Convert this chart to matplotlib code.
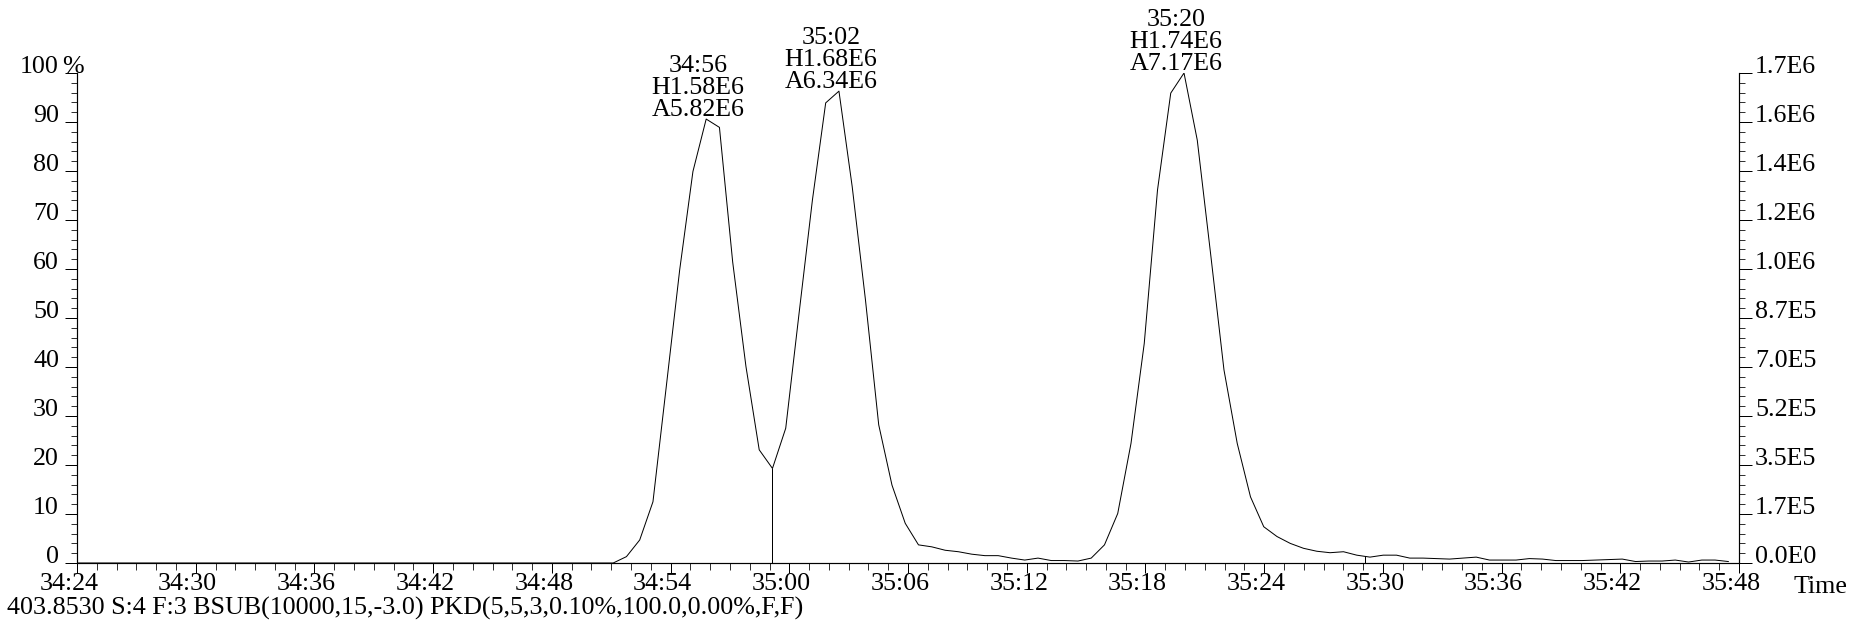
import matplotlib
matplotlib.use("Agg")
import matplotlib.pyplot as plt
from matplotlib.ticker import MultipleLocator
from matplotlib.transforms import ScaledTranslation
import numpy as np

# ---- data ----
T0 = 34 * 60 + 24  # 34:24, start of the time axis (s)

# scan times in seconds after 34:24
scan_t = [0.00, 27.10, 27.77, 28.44, 29.11, 29.78, 30.46, 31.13, 31.80, 32.47, 33.14,
          33.81, 34.48, 35.15, 35.82, 36.49, 37.17, 37.84, 38.51, 39.18, 39.85,
          40.52, 41.19, 41.86, 42.53, 43.20, 43.88, 44.55, 45.22, 45.89, 46.56,
          47.23, 47.90, 48.57, 49.24, 49.91, 50.59, 51.26, 51.93, 52.60, 53.27,
          53.94, 54.61, 55.28, 55.95, 56.62, 57.30, 57.97, 58.64, 59.31, 59.98,
          60.65, 61.32, 61.99, 62.66, 63.33, 64.01, 64.68, 65.35, 66.02, 66.69,
          67.36, 68.03, 68.70, 69.37, 70.04, 70.72, 71.39, 72.06, 72.73, 73.40,
          74.07, 74.74, 75.41, 76.08, 76.75, 77.43, 78.10, 78.77, 79.44, 80.11,
          80.78, 81.45, 82.12, 82.79, 83.46]

# relative intensity (%)
intensity = [0.0, 0.0, 1.3, 4.7, 12.5, 35.9, 59.8, 79.9, 90.6, 88.9, 61.4,
             40.1, 23.1, 19.3, 27.5, 50.8, 74.1, 93.9, 96.3, 76.8, 53.7,
             28.2, 15.9, 8.1, 3.7, 3.3, 2.6, 2.3, 1.8, 1.5, 1.5,
             1.0, 0.6, 1.0, 0.5, 0.5, 0.4, 1.0, 3.7, 10.1, 24.4,
             44.8, 76.1, 95.9, 100.0, 86.3, 62.9, 39.4, 24.4, 13.5, 7.4,
             5.4, 4.0, 3.0, 2.4, 2.1, 2.3, 1.6, 1.2, 1.6, 1.6,
             1.0, 1.0, 0.9, 0.8, 1.0, 1.2, 0.6, 0.6, 0.6, 0.9,
             0.8, 0.5, 0.5, 0.5, 0.6, 0.7, 0.8, 0.3, 0.4, 0.4,
             0.6, 0.2, 0.6, 0.6, 0.3]

# peak labels
peak_rt = ["34:56", "35:02", "35:20"]
peak_h = ["H1.58E6", "H1.68E6", "H1.74E6"]
peak_a = ["A5.82E6", "A6.34E6", "A7.17E6"]

# integration boundaries (s after 34:24)
peak_bounds = [35.15, 65.10]

xtick_labels = ["34:24", "34:30", "34:36", "34:42", "34:48", "34:54", "35:00",
                "35:06", "35:12", "35:18", "35:24", "35:30", "35:36", "35:42", "35:48"]
left_ticks = [0, 10, 20, 30, 40, 50, 60, 70, 80, 90, 100]
right_labels = ["0.0E0", "1.7E5", "3.5E5", "5.2E5", "7.0E5", "8.7E5",
                "1.0E6", "1.2E6", "1.4E6", "1.6E6", "1.7E6"]

footer = "403.8530 S:4 F:3 BSUB(10000,15,-3.0) PKD(5,5,3,0.10%,100.0,0.00%,F,F)"


def mmss(s):
    m, sec = s.split(":")
    return int(m) * 60 + int(sec)


# ---- figure ----
plt.rcParams['font.family'] = ['Liberation Serif', 'DejaVu Serif']
plt.rcParams['font.size'] = 26

DPI = 72
fig = plt.figure(figsize=(1850 / DPI, 629 / DPI), dpi=DPI)
ax = fig.add_axes([77 / 1850, 66 / 629, 1662 / 1850, 490 / 629])

t = T0 + np.array(scan_t)
y = np.array(intensity)
ax.plot(t, y, color="black", lw=1.0)

# drop lines at the peak boundaries
for b in peak_bounds:
    ax.vlines(T0 + b, 0, np.interp(T0 + b, t, y), color="black", lw=1.0)

ax.set_xlim(mmss(xtick_labels[0]), mmss(xtick_labels[-1]))
ax.set_ylim(0, 100)

for sp in ["top", "right"]:
    ax.spines[sp].set_visible(False)
for sp in ["left", "bottom"]:
    ax.spines[sp].set_linewidth(1.2)

ax.set_xticks([mmss(s) for s in xtick_labels])
ax.set_xticklabels(xtick_labels)
ax.xaxis.set_minor_locator(MultipleLocator(1))
ax.tick_params(axis="x", which="major", length=10, width=1.0, pad=0)
ax.tick_params(axis="x", which="minor", length=7, width=0.8)

ax.set_yticks(left_ticks)
ax.set_yticklabels([str(v) for v in left_ticks])
ax.yaxis.set_minor_locator(MultipleLocator(2))
ax.tick_params(axis="y", which="major", length=12, width=1.0, pad=6)
ax.tick_params(axis="y", which="minor", length=6, width=0.8)

ax2 = ax.twinx()
ax2.set_ylim(0, 100)
for sp in ["top", "left", "bottom"]:
    ax2.spines[sp].set_visible(False)
ax2.spines["right"].set_linewidth(1.2)
ax2.set_yticks(left_ticks)
ax2.set_yticklabels(right_labels)
ax2.yaxis.set_minor_locator(MultipleLocator(2))
ax2.tick_params(axis="y", which="major", length=13, width=1.0, pad=3)
ax2.tick_params(axis="y", which="minor", length=6, width=0.8)

for lbl in ax.get_yticklabels() + ax2.get_yticklabels():
    lbl.set_va("baseline")
shift = ScaledTranslation(-8 / DPI, 0, fig.dpi_scale_trans)
for lbl in ax.get_xticklabels():
    lbl.set_transform(lbl.get_transform() + shift)

# peak annotations above each apex
for rt, h, a in zip(peak_rt, peak_h, peak_a):
    win = np.abs(t - mmss(rt)) < 1.5
    k = np.argmax(np.where(win, y, -1))
    for off, txt in zip([3, 25, 47], [a, h, rt]):
        ax.annotate(txt, xy=(t[k], y[k]), xytext=(-8, off), textcoords="offset points",
                    ha="center", va="baseline", annotation_clip=False)

fig.text(62 / 1850, (629 - 73) / 629, "%", ha="left", va="baseline")
fig.text(1793 / 1850, (629 - 593) / 629, "Time", ha="left", va="baseline")
fig.text(7 / 1850, (629 - 615) / 629, footer, ha="left", va="baseline", fontsize=26)

fig.savefig("out.png", dpi=DPI)
